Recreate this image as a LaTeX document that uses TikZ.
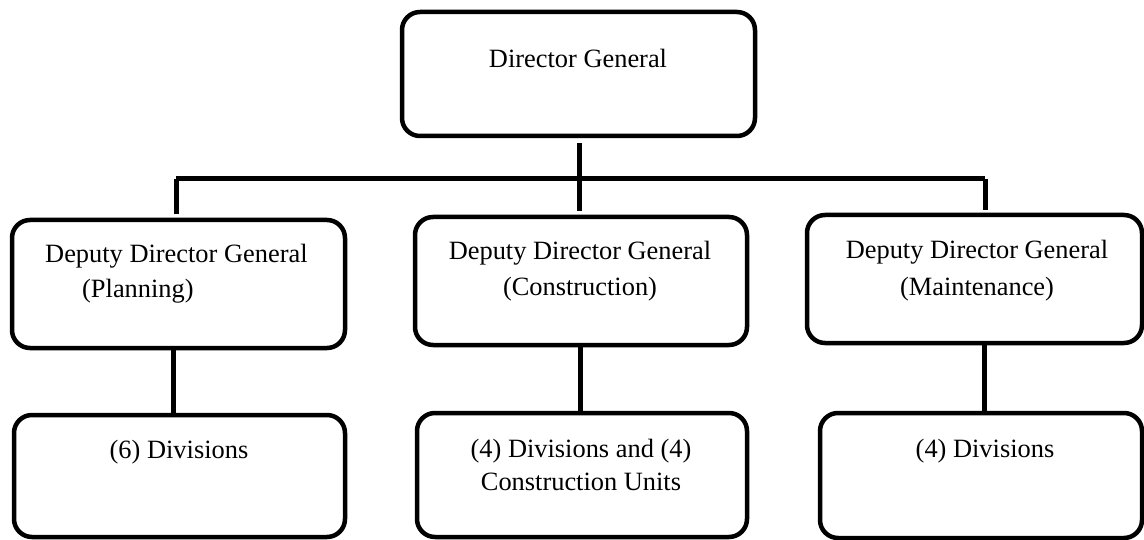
\documentclass[tikz,border=0pt]{standalone}
\usepackage{fontspec}
\setmainfont{Liberation Serif}
\usetikzlibrary{calc}
\begin{document}
\begin{tikzpicture}[x=1pt,y=-1pt,
  orgbox/.style={draw, line width=4.5pt, rounded corners=18pt, inner sep=0pt},
  boxtext/.style={inner sep=0pt, anchor=base, align=center,
    font=\fontsize{26.4pt}{36pt}\selectfont},
  link/.style={line width=5pt}]
\useasboundingbox (0,0) rectangle (1144,540);

% boxes (stroke-centre sizes)
\node[orgbox, minimum width=353pt, minimum height=124pt] (dg)  at (578.5,74) {};
\node[orgbox, minimum width=333pt, minimum height=128pt] (ddp) at (178.5,284) {};
\node[orgbox, minimum width=332pt, minimum height=128pt] (ddc) at (581,281) {};
\node[orgbox, minimum width=335pt, minimum height=128pt] (ddm) at (974.5,279) {};
\node[orgbox, minimum width=331pt, minimum height=122pt] (dv6) at (179.5,476) {};
\node[orgbox, minimum width=330pt, minimum height=124pt] (dvc) at (582,475) {};
\node[orgbox, minimum width=322pt, minimum height=125pt] (dvm) at (981,475.5) {};

% box texts (multi-line texts are placed by the baseline of their last line)
\node[boxtext] (tdg)  at (578,68) {Director General};
\node[boxtext, align=left, anchor=base west] (tddp) at (45,298)
  {Deputy Director General\\[-1pt]\hspace{37pt}(Planning)};
\node[boxtext] (tddc) at (580,296) {Deputy Director General\\(Construction)};
\node[boxtext] (tddm) at (977,295) {Deputy Director General\\(Maintenance)};
\node[boxtext] (tdv6) at (179,458) {(6) Divisions};
\node[boxtext] (tdvc) at (581,490) {(4) Divisions and (4)\\[-3pt]Construction Units};
\node[boxtext] (tdvm) at (985,457) {(4) Divisions};

% junctions on the horizontal bar
\coordinate (jL) at (176,179);
\coordinate (jC) at (579,179);
\coordinate (jR) at (985,179);

% connectors
\draw[link, shorten <=5pt] (dg.south -| jC) -- (jC);
\draw[link] (jL) -- (jR);
\draw[link, shorten >=4pt] (jL) -- (jL |- ddp.north);
\draw[link, shorten >=4pt] (jC) -- (jC |- ddc.north);
\draw[link, shorten >=3pt] (jR) -- (jR |- ddm.north);
\draw[link] ([xshift=-5pt]ddp.south) -- ([xshift=-6pt]dv6.north);
\draw[link] ([xshift=-1pt]ddc.south) -- ([xshift=-2pt]dvc.north);
\draw[link] ([xshift=9.5pt]ddm.south) -- ([xshift=3pt]dvm.north);
\end{tikzpicture}
\end{document}
